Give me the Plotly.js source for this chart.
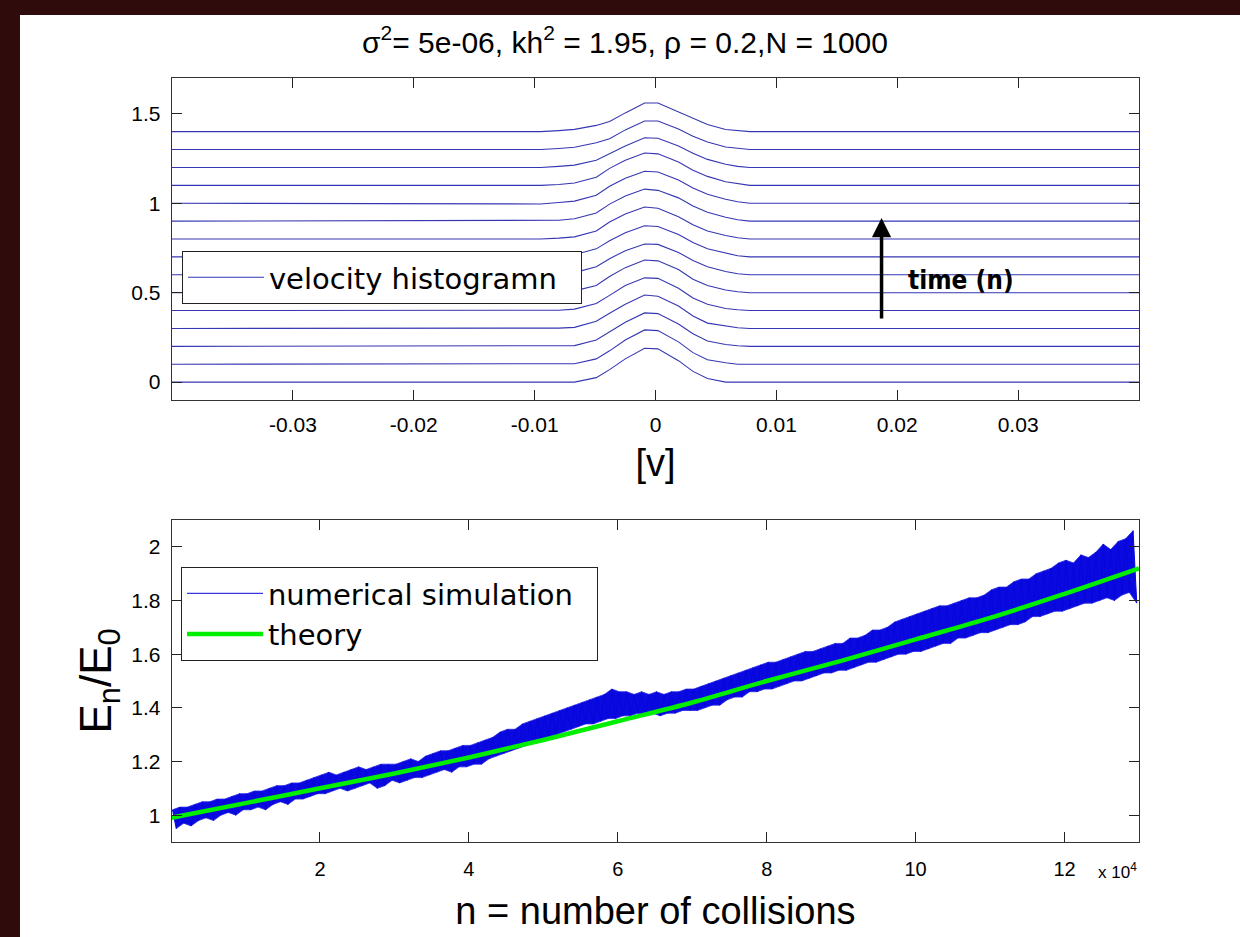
<!DOCTYPE html>
<html>
<head>
<meta charset="utf-8">
<script src="https://cdn.plot.ly/plotly-3.0.1.min.js"></script>
<style>html,body{margin:0;padding:0;background:#2f0b0b;}#chart{width:1240px;height:937px;}</style>
</head>
<body>
<div id="chart"></div>
<script>
// ---------- top panel: stacked velocity histograms ----------
const vGrid = [-0.04, -0.0095, -0.008, -0.0067, -0.0049, -0.0038, -0.0025, -0.0009, 0.0002, 0.0019, 0.0031, 0.0043, 0.0058, 0.0068, 0.0078, 0.04];
const histOffsets = [0, 0.1, 0.2, 0.3, 0.4, 0.5, 0.6, 0.7, 0.8, 0.9, 1.0, 1.1, 1.2, 1.3, 1.4];
const hist00 = [0, 0, 0, 0, 0.025, 0.07, 0.13, 0.189, 0.186, 0.12, 0.06, 0.02, 0, 0, 0, 0];
const hist01 = [0, 0, 0, 0.003, 0.03, 0.075, 0.135, 0.192, 0.188, 0.125, 0.065, 0.025, 0.008, 0, 0, 0];
const hist02 = [0, 0, 0, 0.004, 0.035, 0.08, 0.135, 0.187, 0.183, 0.125, 0.07, 0.03, 0.01, 0.003, 0, 0];
const hist03 = [0, 0, 0.002, 0.006, 0.04, 0.085, 0.135, 0.187, 0.18, 0.125, 0.07, 0.03, 0.012, 0.004, 0, 0];
const hist04 = [0, 0, 0.002, 0.008, 0.04, 0.085, 0.14, 0.183, 0.18, 0.125, 0.07, 0.035, 0.012, 0.005, 0, 0];
const hist05 = [0, 0, 0.003, 0.01, 0.04, 0.09, 0.14, 0.183, 0.178, 0.13, 0.075, 0.04, 0.015, 0.005, 0, 0];
const hist06 = [0, 0, 0.004, 0.012, 0.045, 0.09, 0.135, 0.172, 0.17, 0.125, 0.08, 0.045, 0.018, 0.006, 0, 0];
const hist07 = [0, 0, 0.004, 0.012, 0.045, 0.09, 0.135, 0.174, 0.17, 0.125, 0.08, 0.045, 0.02, 0.006, 0, 0];
const hist08 = [0, 0, 0.005, 0.012, 0.045, 0.095, 0.14, 0.179, 0.172, 0.125, 0.08, 0.045, 0.02, 0.007, 0, 0];
const hist09 = [0, 0.002, 0.005, 0.013, 0.045, 0.095, 0.14, 0.179, 0.172, 0.13, 0.085, 0.05, 0.022, 0.008, 0, 0];
const hist10 = [0, -0.004, 0.004, 0.012, 0.045, 0.095, 0.14, 0.179, 0.175, 0.13, 0.085, 0.05, 0.022, 0.008, 0, 0];
const hist11 = [0, 0, 0.005, 0.013, 0.045, 0.095, 0.14, 0.181, 0.176, 0.13, 0.085, 0.05, 0.02, 0.008, 0, 0];
const hist12 = [0, 0, 0.006, 0.013, 0.04, 0.075, 0.12, 0.166, 0.163, 0.12, 0.08, 0.045, 0.018, 0.006, 0, 0];
const hist13 = [0, 0, 0.006, 0.013, 0.038, 0.06, 0.11, 0.16, 0.16, 0.115, 0.075, 0.042, 0.014, 0.005, 0, 0];
const hist14 = [0, 0, 0.006, 0.013, 0.035, 0.057, 0.105, 0.16, 0.16, 0.11, 0.072, 0.04, 0.012, 0.005, 0, 0];
const histRows = [hist00, hist01, hist02, hist03, hist04, hist05, hist06, hist07, hist08, hist09, hist10, hist11, hist12, hist13, hist14];
const topXTicks = [-0.03, -0.02, -0.01, 0, 0.01, 0.02, 0.03];
const topXTickText = ['-0.03', '-0.02', '-0.01', '0', '0.01', '0.02', '0.03'];
const topYTicks = [0, 0.5, 1, 1.5];
const topYTickText = ['0', '0.5', '1', '1.5'];

// ---------- bottom panel: energy growth ----------
// numerical simulation: band extremes read every 1000 collisions
const simStart = 200;
const simStep = 1000;
const simHigh = [
 1.02,1.03,1.03,1.04,1.05,1.05,1.06,1.06,1.07,1.08,
 1.08,1.09,1.09,1.10,1.11,1.11,1.12,1.12,1.13,1.14,
 1.15,1.16,1.15,1.16,1.17,1.18,1.17,1.18,1.19,1.19,
 1.19,1.20,1.21,1.20,1.22,1.23,1.24,1.24,1.25,1.26,
 1.26,1.27,1.28,1.29,1.31,1.32,1.32,1.34,1.35,1.36,
 1.37,1.38,1.39,1.40,1.41,1.42,1.43,1.44,1.45,1.47,
 1.46,1.46,1.45,1.46,1.45,1.46,1.45,1.46,1.46,1.47,
 1.47,1.48,1.49,1.50,1.51,1.52,1.53,1.54,1.55,1.56,
 1.57,1.57,1.58,1.59,1.60,1.61,1.61,1.62,1.63,1.64,
 1.64,1.66,1.66,1.67,1.69,1.69,1.70,1.72,1.73,1.74,
 1.75,1.76,1.77,1.78,1.78,1.79,1.80,1.81,1.81,1.82,
 1.84,1.85,1.85,1.87,1.88,1.88,1.90,1.91,1.92,1.94,
 1.95,1.94,1.97,1.96,1.98,2.01,1.99,2.02,2.03,2.06];
const simLow = [
 0.95,0.97,0.96,0.98,0.99,0.98,1.00,1.01,1.00,1.02,
 1.02,1.03,1.02,1.04,1.05,1.04,1.06,1.06,1.07,1.08,
 1.08,1.09,1.10,1.09,1.10,1.11,1.12,1.10,1.11,1.13,
 1.12,1.13,1.14,1.14,1.15,1.16,1.17,1.16,1.18,1.18,
 1.19,1.19,1.21,1.22,1.23,1.24,1.25,1.26,1.27,1.28,
 1.29,1.30,1.31,1.32,1.33,1.34,1.34,1.35,1.36,1.36,
 1.37,1.37,1.38,1.37,1.38,1.37,1.38,1.38,1.39,1.39,
 1.39,1.40,1.41,1.41,1.43,1.44,1.44,1.46,1.46,1.47,
 1.47,1.48,1.49,1.50,1.50,1.51,1.52,1.53,1.53,1.54,
 1.54,1.55,1.56,1.57,1.57,1.58,1.59,1.60,1.60,1.61,
 1.61,1.62,1.63,1.64,1.64,1.66,1.66,1.67,1.68,1.68,
 1.69,1.70,1.71,1.71,1.72,1.74,1.74,1.75,1.76,1.76,
 1.77,1.78,1.79,1.79,1.80,1.81,1.80,1.82,1.83,1.79];
const theoryN = [0, 10000, 20000, 30000, 40000, 50000, 60000, 70000, 80000, 90000, 100000, 110000, 120000, 130000];
const theoryE = [0.99, 1.045, 1.10, 1.155, 1.215, 1.28, 1.35, 1.42, 1.50, 1.575, 1.655, 1.735, 1.825, 1.92];
const botXTicks = [20000, 40000, 60000, 80000, 100000, 120000];
const botXTickText = ['2', '4', '6', '8', '10', '12'];
const botYTicks = [1, 1.2, 1.4, 1.6, 1.8, 2];
const botYTickText = ['1', '1.2', '1.4', '1.6', '1.8', '2'];

const FONT = 'Liberation Sans, Arial, Helvetica, sans-serif';
const LEGFONT = 'DejaVu Sans, Liberation Sans, sans-serif';
const NB = '\u00a0\u00a0';
const traces = [];
histRows.forEach((row, i) => {
  traces.push({
    x: vGrid,
    y: row.map(h => h + histOffsets[i]),
    type: 'scatter', mode: 'lines',
    line: {color: '#3636b2', width: 1.1},
    name: 'velocity histogramn' + NB,
    showlegend: i === 0,
    legend: 'legend',
    xaxis: 'x', yaxis: 'y',
    hoverinfo: 'skip'
  });
});

const highX = [], lowX = [], simX = [], simY = [];
for (let i = 0; i < simHigh.length; i++) {
  highX.push(simStart + i * simStep);
  lowX.push(simStart + i * simStep + simStep / 2);
  simX.push(highX[i], lowX[i]);
  simY.push(simHigh[i], simLow[i]);
}
// band body (between the read extremes)
traces.push({
  x: lowX, y: simLow, type: 'scatter', mode: 'lines',
  line: {color: '#2a2ae6', width: 0.8}, showlegend: false,
  xaxis: 'x2', yaxis: 'y2', hoverinfo: 'skip'
});
traces.push({
  x: highX, y: simHigh, type: 'scatter', mode: 'lines', fill: 'tonexty',
  fillcolor: '#0a0ae0',
  line: {color: '#2a2ae6', width: 0.8}, showlegend: false,
  xaxis: 'x2', yaxis: 'y2', hoverinfo: 'skip'
});
// the oscillating signal itself
traces.push({
  x: simX, y: simY, type: 'scatter', mode: 'lines',
  line: {color: '#0606dc', width: 1},
  name: 'numerical simulation' + NB, legend: 'legend2',
  xaxis: 'x2', yaxis: 'y2', hoverinfo: 'skip'
});
traces.push({
  x: theoryN, y: theoryE, type: 'scatter', mode: 'lines',
  line: {color: '#00ee00', width: 4.5, shape: 'spline'},
  name: 'theory', legend: 'legend2',
  xaxis: 'x2', yaxis: 'y2', hoverinfo: 'skip'
});

const axCommon = {
  showline: true, linecolor: '#333', linewidth: 1.3, mirror: 'ticks',
  ticks: 'inside', ticklen: 10, tickcolor: '#222', tickwidth: 1,
  showgrid: false, zeroline: false, fixedrange: true
};

const layout = {
  width: 1240, height: 937,
  paper_bgcolor: '#2f0b0b', plot_bgcolor: '#ffffff',
  margin: {l: 172, r: 101, t: 78, b: 95},
  font: {family: FONT, color: '#000'},
  title: {
    text: 'σ<sup>2</sup>= 5e-06, kh<sup>2</sup> = 1.95, ρ = 0.2,N = 1000',
    font: {family: FONT, size: 30, color: '#000'},
    x: 625 / 1240, xref: 'container', xanchor: 'center',
    y: 1 - 42 / 937, yref: 'container', yanchor: 'middle'
  },
  xaxis: Object.assign({}, axCommon, {
    domain: [0, 1], anchor: 'y', range: [-0.04, 0.04],
    tickvals: topXTicks, ticktext: topXTickText,
    tickfont: {size: 21, family: FONT}, ticklabelstandoff: 5,
    title: {text: '[v]', font: {size: 38, family: FONT}, standoff: 15}
  }),
  yaxis: Object.assign({}, axCommon, {
    domain: [0.5785, 1], anchor: 'x', range: [-0.1, 1.7],
    tickvals: topYTicks, ticktext: topYTickText,
    tickfont: {size: 21, family: FONT}, ticklabelstandoff: 6
  }),
  xaxis2: Object.assign({}, axCommon, {
    domain: [0, 1], anchor: 'y2', range: [130, 130000],
    tickvals: botXTicks, ticktext: botXTickText,
    tickfont: {size: 20, family: FONT}, ticklabelstandoff: 9,
    title: {text: 'n = number of collisions', font: {size: 38, family: FONT}, standoff: 18}
  }),
  yaxis2: Object.assign({}, axCommon, {
    domain: [0, 0.4215], anchor: 'x2', range: [0.9, 2.1],
    tickvals: botYTicks, ticktext: botYTickText,
    tickfont: {size: 21, family: FONT}, ticklabelstandoff: 6,
    title: {text: 'E<sub>n</sub>/E<sub>0</sub>', font: {size: 44, family: FONT}, standoff: 6}
  }),
  legend: {
    x: 0.0103, y: 0.7736, xanchor: 'left', yanchor: 'top',
    bgcolor: '#ffffff', bordercolor: '#222', borderwidth: 1,
    font: {size: 29, family: LEGFONT}, itemwidth: 76
  },
  legend2: {
    x: 0.0093, y: 0.36, xanchor: 'left', yanchor: 'top',
    bgcolor: '#ffffff', bordercolor: '#222', borderwidth: 1,
    font: {size: 29, family: LEGFONT}, itemwidth: 76, tracegroupgap: 0
  },
  shapes: [{
    type: 'rect', xref: 'paper', yref: 'paper', layer: 'below',
    x0: (20 - 172) / 967, x1: (1240 - 172) / 967,
    y0: (842 - 937) / 764, y1: (842 - 15) / 764,
    fillcolor: '#ffffff', line: {width: 0}
  }],
  annotations: [
    {
      xref: 'x', yref: 'y', axref: 'x', ayref: 'y',
      x: 0.0187, y: 0.918, ax: 0.0187, ay: 0.347,
      text: '', showarrow: true, arrowhead: 2, arrowsize: 1.1, arrowwidth: 3.5, arrowcolor: '#000'
    },
    {
      xref: 'x', yref: 'y', x: 0.0207, y: 0.571, xanchor: 'left', yanchor: 'middle',
      text: '<b>time (n)</b>', showarrow: false,
      font: {family: 'DejaVu Sans Condensed, DejaVu Sans, sans-serif', size: 26, color: '#000'}
    },
    {
      xref: 'paper', yref: 'paper', x: 1.0, y: (842 - 871) / 764, xanchor: 'right', yanchor: 'middle',
      text: 'x 10<sup>4</sup>', showarrow: false,
      font: {family: FONT, size: 17, color: '#000'}
    }
  ]
};

Plotly.newPlot('chart', traces, layout, {staticPlot: true, displayModeBar: false});
</script>
</body>
</html>
